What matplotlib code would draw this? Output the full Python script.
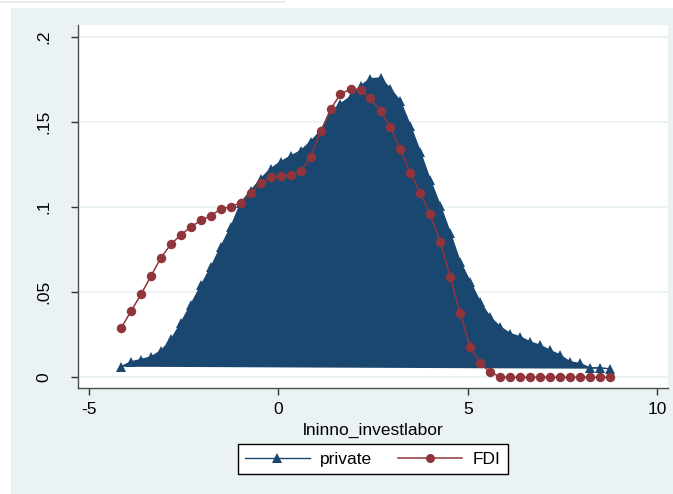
import numpy as np
import matplotlib
matplotlib.use("Agg")
import matplotlib.pyplot as plt
from matplotlib.patches import Rectangle
from matplotlib.lines import Line2D

# kernel density grid (50 evaluation points) and the two density estimates
x_grid = [-4.15, -3.89, -3.62, -3.36, -3.10, -2.83, -2.57, -2.31, -2.04, -1.78,
          -1.52, -1.25, -0.99, -0.73, -0.46, -0.20, 0.06, 0.33, 0.59, 0.85,
          1.12, 1.38, 1.64, 1.91, 2.17, 2.43, 2.70, 2.96, 3.22, 3.49,
          3.75, 4.01, 4.28, 4.54, 4.80, 5.07, 5.33, 5.59, 5.86, 6.12,
          6.38, 6.65, 6.91, 7.17, 7.44, 7.70, 7.96, 8.23, 8.49, 8.75]

private = [0.0062, 0.0091, 0.0104, 0.0120, 0.0155, 0.0222, 0.0320, 0.0427, 0.0540, 0.0648,
           0.0766, 0.0885, 0.1026, 0.1096, 0.1167, 0.1225, 0.1266, 0.1300, 0.1331, 0.1384,
           0.1448, 0.1548, 0.1607, 0.1648, 0.1712, 0.1754, 0.1759, 0.1695, 0.1624, 0.1478,
           0.1325, 0.1161, 0.1008, 0.0850, 0.0680, 0.0560, 0.0443, 0.0355, 0.0296, 0.0257,
           0.0238, 0.0208, 0.0188, 0.0159, 0.0130, 0.0091, 0.0081, 0.0056, 0.0056, 0.0050]

fdi = [0.0290, 0.0388, 0.0490, 0.0596, 0.0702, 0.0784, 0.0837, 0.0884, 0.0922, 0.0949,
       0.0990, 0.1001, 0.1027, 0.1083, 0.1142, 0.1174, 0.1181, 0.1187, 0.1210, 0.1295,
       0.1445, 0.1575, 0.1664, 0.1694, 0.1690, 0.1640, 0.1565, 0.1470, 0.1340, 0.1200,
       0.1083, 0.0958, 0.0794, 0.0590, 0.0376, 0.0176, 0.0082, 0.0031, 0.0002, 0.0,
       0.0, 0.0, 0.0, 0.0, 0.0, 0.0, 0.0, 0.0, 0.0, 0.0]

x_ticks = [-5, 0, 5, 10]
x_tick_labels = ["-5", "0", "5", "10"]
y_ticks = [0, 0.05, 0.1, 0.15, 0.2]
y_tick_labels = ["0", ".05", ".1", ".15", ".2"]

navy = "#1a476f"
maroon = "#90353b"
region_bg = "#eaf2f3"

plt.rcParams["font.family"] = ["Liberation Sans", "DejaVu Sans"]

W, H = 673, 494
fig = plt.figure(figsize=(W / 100, H / 100), dpi=100, facecolor="white")

# light graph region behind the plot area
fig.patches.append(Rectangle((11 / W, 0), 1, 1 - 8 / H, transform=fig.transFigure,
                             facecolor=region_bg, edgecolor="none", zorder=-10))
fig.lines.append(Line2D([0, 285 / W], [1 - 2.5 / H, 1 - 2.5 / H], transform=fig.transFigure,
                        color="#e3ebed", lw=1.2, zorder=-10))

ax = fig.add_axes([78 / W, 1 - 388 / H, (668 - 78) / W, (388 - 25) / H])
ax.set_facecolor("white")

ax.set_xlim(-5.29, 10.29)
ax.set_ylim(-0.0063, 0.207)

for yv in y_ticks:
    ax.axhline(yv, color=region_bg, lw=1.3, zorder=1)

# private: filled area closed back to the first point, with triangle markers
ax.fill(x_grid, private, color=navy, lw=0, zorder=2)
ax.plot(x_grid, private, color=navy, lw=1, marker="^", markersize=6.5,
        markeredgewidth=0, zorder=3, label="private")
ax.plot(x_grid, fdi, color=maroon, lw=1.1, marker="o", markersize=6.8,
        markeredgewidth=0, zorder=4, label="FDI")

ax.set_xticks(x_ticks)
ax.set_xticklabels(x_tick_labels)
ax.set_yticks(y_ticks)
ax.set_yticklabels(y_tick_labels, rotation=90, va="center")

for side in ("top", "right"):
    ax.spines[side].set_visible(False)
for side in ("left", "bottom"):
    ax.spines[side].set_color("#4d4d4d")
    ax.spines[side].set_linewidth(1)

ax.tick_params(axis="x", length=5, width=1, color="#333333", labelsize=12.5, pad=5)
ax.tick_params(axis="y", length=5, width=1, color="#333333", labelsize=12.5, pad=14)

ax.set_xlabel("lninno_investlabor", fontsize=12.5, labelpad=4)

leg = ax.legend(loc="center", bbox_to_anchor=(373 / W, 1 - 459 / H),
                bbox_transform=fig.transFigure, ncol=2, fontsize=12.5,
                frameon=True, fancybox=False, edgecolor="black", framealpha=1,
                handlelength=3.7, handletextpad=0.6, columnspacing=1.5,
                borderpad=0.45, borderaxespad=0)
leg.get_frame().set_linewidth(1)
for h in leg.legend_handles:
    h.set_markersize(6.5)

fig.savefig("out.png", dpi=100, facecolor="white")
